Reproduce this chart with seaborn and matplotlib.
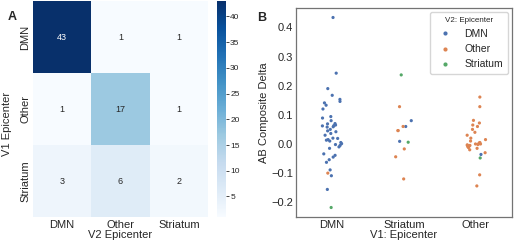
import numpy as np
import pandas as pd
import seaborn as sns
import matplotlib.pyplot as plt

sns.set_theme(style="white")
plt.rcParams["font.family"] = ["Liberation Sans", "DejaVu Sans"]
np.random.seed(3)  # only fixes the strip jitter between runs

# panel A: epicenter agreement counts (rows V1, columns V2)
regions = ["DMN", "Other", "Striatum"]
counts = [[43, 1, 1],
          [1, 17, 1],
          [3, 6, 2]]

# panel B: AB composite delta per V1 epicenter, split by V2 epicenter
dmn_dmn = [0.434, 0.243, 0.19, 0.167, 0.153, 0.146, 0.141, 0.133, 0.12, 0.094,
           0.089, 0.08, 0.07, 0.069, 0.065, 0.063, 0.062, 0.059, 0.058, 0.05,
           0.045, 0.042, 0.036, 0.03, 0.02, 0.019, 0.015, 0.013, 0.01, 0.005,
           0.001, -0.002, -0.005, -0.01, -0.015, -0.034, -0.039, -0.045, -0.054,
           -0.063, -0.089, -0.109, -0.156]
dmn_other = [-0.1]
dmn_str = [-0.218]
str_dmn = [0.08, 0.06, 0.009]
str_other = [0.128, 0.06, 0.046, 0.046, -0.017, -0.044, -0.12]
str_str = [0.237, 0.006]
oth_dmn = [-0.036]
oth_other = [0.161, 0.128, 0.081, 0.072, 0.065, 0.06, 0.05, 0.04, 0.03, 0.02,
             0.015, 0.01, 0.005, 0.003, 0.0, 0.0, -0.002, -0.003, -0.005, -0.005,
             -0.008, -0.01, -0.012, -0.015, -0.02, -0.03, -0.106, -0.144]
oth_str = [-0.048]

groups = [("DMN", "DMN", dmn_dmn), ("DMN", "Other", dmn_other), ("DMN", "Striatum", dmn_str),
          ("Striatum", "DMN", str_dmn), ("Striatum", "Other", str_other), ("Striatum", "Striatum", str_str),
          ("Other", "DMN", oth_dmn), ("Other", "Other", oth_other), ("Other", "Striatum", oth_str)]
rows = [(v1, v2, d) for v1, v2, vals in groups for d in vals]
df = pd.DataFrame(rows, columns=["V1: Epicenter", "V2: Epicenter", "AB Composite Delta"])

W, H = 520, 252
fig = plt.figure(figsize=(W / 100, H / 100), dpi=100)

def box(l, t, r, b):
    return [l / W, 1 - b / H, (r - l) / W, (b - t) / H]

# heatmap
ax1 = fig.add_axes(box(33, 1, 208, 217))
cax = fig.add_axes(box(217, 1, 226, 217))
mat = pd.DataFrame(counts, index=regions, columns=regions)
sns.heatmap(mat, annot=True, cmap="Blues", ax=ax1, cbar_ax=cax,
            annot_kws={"fontsize": 6.5})
ax1.set_xlabel("V2 Epicenter", fontsize=8, labelpad=0)
ax1.set_ylabel("V1 Epicenter", fontsize=8, labelpad=1)
ax1.yaxis.set_label_coords(-0.12, 0.43)
ax1.tick_params(axis="both", labelsize=8, length=0, pad=2)
plt.setp(ax1.get_yticklabels(), rotation=90, va="center")
cax.tick_params(labelsize=6, right=True, length=2, width=0.6, pad=1)
cax.set_yticks([5, 10, 15, 20, 25, 30, 35, 40])

# strip plot
ax2 = fig.add_axes(box(296, 8, 512, 217))
sns.stripplot(data=df, x="V1: Epicenter", y="AB Composite Delta",
              hue="V2: Epicenter", order=["DMN", "Striatum", "Other"],
              hue_order=["DMN", "Other", "Striatum"], jitter=0.14,
              size=2.3, linewidth=0, ax=ax2)
ax2.set_yticks([-0.2, -0.1, 0.0, 0.1, 0.2, 0.3, 0.4])
ax2.tick_params(axis="both", labelsize=8, length=0, pad=2)
ax2.set_xlabel("V1: Epicenter", fontsize=8, labelpad=0)
ax2.set_ylabel("AB Composite Delta", fontsize=8, labelpad=2)
for s in ax2.spines.values():
    s.set_color(".45")
    s.set_linewidth(0.9)
leg = ax2.legend(title="V2: Epicenter", loc="upper right", fontsize=7.5,
                 title_fontsize=5.8, markerscale=1.3, handletextpad=0.9,
                 borderpad=0.45, labelspacing=0.5, borderaxespad=0.4,
                 frameon=True)

fig.text(8 / W, 1 - 17 / H, "A", fontsize=9, fontweight="bold", va="center")
fig.text(257 / W, 1 - 18 / H, "B", fontsize=9, fontweight="bold", va="center")

fig.savefig("out.png", dpi=100)
